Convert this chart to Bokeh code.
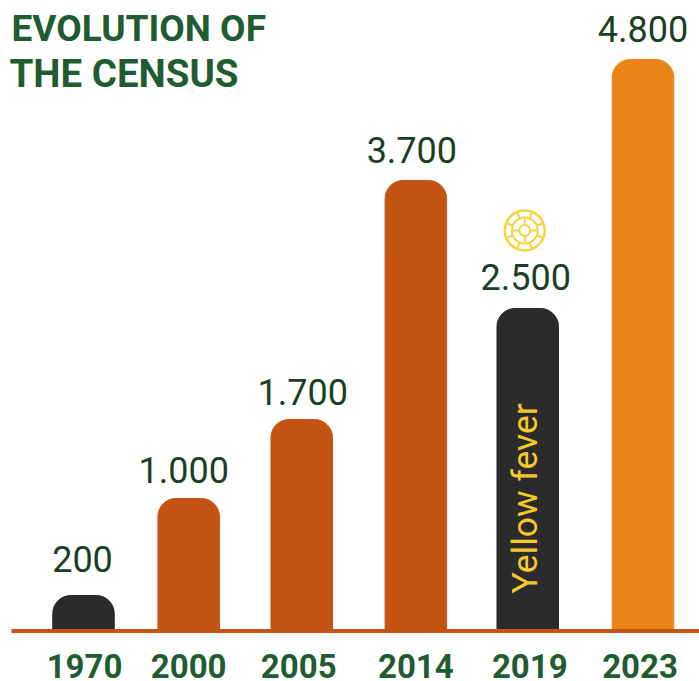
from bokeh.embed import file_html
from bokeh.models import ColumnDataSource, Range1d
from bokeh.plotting import figure
from bokeh.resources import INLINE
from bokeh.core.properties import value
import math

# Census figures exactly as printed on the chart
years = ["1970", "2000", "2005", "2014", "2019", "2023"]
census_labels = ["200", "1.000", "1.700", "3.700", "2.500", "4.800"]
# Bar lengths as drawn in the reference (the picture is not strictly to scale,
# so these are read off the bars, in reference pixels above the baseline)
bar_lengths = [35, 132, 211, 450, 322, 571]
bar_colors = ["#2b2b2b", "#c45414", "#c45414", "#c45414", "#2b2b2b", "#ea8417"]
title_lines = ["EVOLUTION OF", "THE CENSUS"]
annotation_text = "Yellow fever"
annotated_year = "2019"

# Layout: the reference's columns are slightly unevenly spaced
slots = [0.0, 0.94, 1.95, 2.97, 3.97, 5.0]
label_dx = [-1, -5, 1, -4, -2, 0]
label_dy = [-37, -29, -28, -31, -32, -31]
year_dx = [1, 0, -3, 0, 2, -3]

W, H = 699, 681
BASE = 630
UNIT = 111.9
LEFT = 83 / UNIT
p = figure(width=W, height=H, output_backend="svg", toolbar_location=None,
           x_range=Range1d(-LEFT, W / UNIT - LEFT),
           y_range=Range1d(BASE - H, BASE), min_border=0,
           outline_line_color=None)
p.grid.visible = False
p.axis.visible = False

src = ColumnDataSource(dict(x=slots, top=bar_lengths, color=bar_colors, label=census_labels,
                            year=years, ldx=label_dx, ldy=label_dy, ydx=year_dx,
                            ybase=[-35] * len(years)))
p.vbar(x="x", top="top", bottom=0, width=61.5 / UNIT, color="color", source=src,
       border_radius=(18, 18, 0, 0))
# baseline
p.segment(x0=[(11 - 83) / UNIT], x1=[W / UNIT - LEFT], y0=[-0.5], y1=[-0.5], line_color="#c45414", line_width=4)

p.text(x="x", y="top", text="label", source=src, text_align="center", text_baseline="alphabetic",
       text_color="#1a3f22", text_font=value("Roboto"), text_font_size="36px",
       x_offset="ldx", y_offset="ldy")
p.text(x="x", y="ybase", text="year", source=src, text_align="center", text_baseline="middle",
       text_color="#1f5c30", text_font=value("Roboto"), text_font_style="bold", text_font_size="33px",
       x_offset="ydx")
p.text(x=[slots[0]], y=[BASE - 28], text=title_lines[:1], text_align="left",
       x_offset=[-72], text_baseline="alphabetic",
       text_color="#1f5c30", text_font=value("Roboto"), text_font_style="bold", text_font_size="37px")
p.text(x=[slots[0]], y=[BASE - 73], text=title_lines[1:], text_align="left",
       x_offset=[-74], text_baseline="alphabetic",
       text_color="#1f5c30", text_font=value("Roboto"), text_font_style="bold", text_font_size="38.5px")

i = years.index(annotated_year)
p.text(x=[slots[i]], y=[37], text=[annotation_text], angle=math.pi / 2, text_align="left",
       text_baseline="alphabetic", x_offset=[-3], text_color="#f5c92e",
       text_font=value("Roboto"), text_font_size="35.5px")

# wheel icon above the annotated bar
cy = [BASE - 230]
cx = [slots[i] - 3 / UNIT]
gold = "#f7d33f"
p.scatter(x=cx, y=cy, size=40, marker="circle", fill_color="white", line_color=gold, line_width=2.5)
for k in range(8):
    p.ray(x=cx, y=cy, length=19, length_units="screen", angle=(k + 0.5) * math.pi / 4,
          line_color=gold, line_width=2)
p.scatter(x=cx, y=cy, size=26, marker="circle", fill_color="white", line_color=gold, line_width=2)
for k in range(4):
    p.ray(x=cx, y=cy, length=12, length_units="screen", angle=k * math.pi / 2,
          line_color=gold, line_width=2)
p.scatter(x=cx, y=cy, size=11, marker="circle", fill_color="white", line_color=gold, line_width=2)

open("out.html", "w").write(file_html(p, INLINE))
